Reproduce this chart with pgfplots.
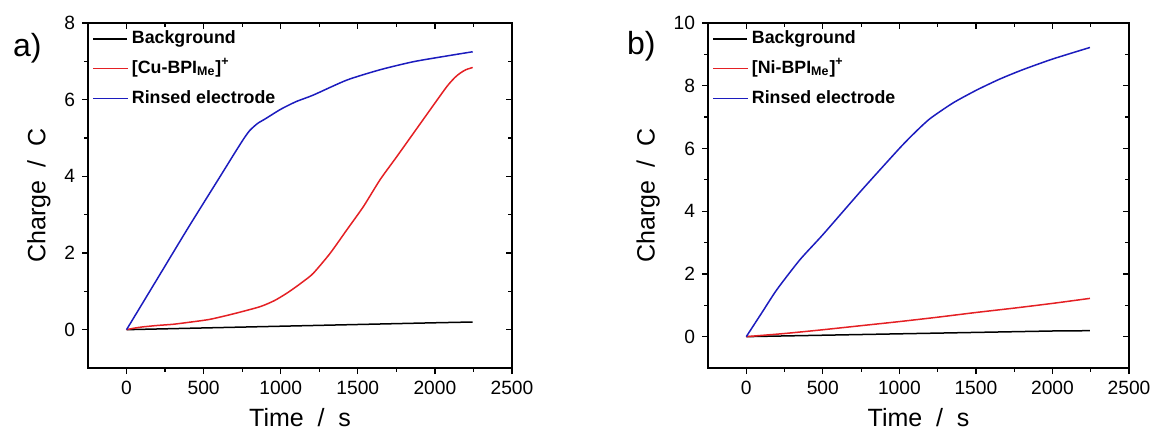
\documentclass[border=0pt]{standalone}
\usepackage{pgfplots}
\pgfplotsset{compat=1.18}
\usepackage{fontspec}
\setmainfont{Liberation Sans}
\definecolor{myred}{RGB}{228,32,36}
\definecolor{myblue}{RGB}{28,28,190}
\pgfplotsset{
  base/.style={scale only axis, width=212pt, height=172.5pt,
    xmin=-250, xmax=2500, ymin=-1,
    xtick={0,500,...,2500}, minor x tick num=1, minor y tick num=1,
    axis line style={line width=0.6pt},
    every tick/.style={black, line width=0.6pt},
    major tick length=3pt, minor tick length=1.8pt,
    tick label style={font=\fontsize{9.6}{11}\selectfont},
    /pgf/number format/assume math mode=true,
    /pgf/number format/set thousands separator={},
    tick align=outside, xtick pos=left, ytick pos=left,
    clip=false},
  lab/.style={
    xlabel={Time\hspace{0.55em}/\hspace{0.55em}s}, ylabel={Charge\hspace{0.55em}/\hspace{0.55em}C},
    label style={font=\fontsize{12.5}{14}\selectfont},
    legend cell align=left,
    legend style={draw=none, fill=none, at={(0.005,0.997)}, anchor=north west,
      font=\bfseries\fontsize{8.9}{10}\selectfont, row sep=2.4pt, inner sep=1pt,
      nodes={text height=6.5pt, text depth=2pt}},
    legend image code/.code={\draw[##1, line width=0.7pt] plot coordinates {(0pt,0pt) (8.5pt,0pt) (17pt,0pt)};}
  }
}
\newcommand{\cuname}{\relax[Cu-BPI\textsubscript{Me}]\textsuperscript{+}}
\newcommand{\niname}{\relax[Ni-BPI\textsubscript{Me}]\textsuperscript{+}}
% mirror ticks on top and right, pointing inward: #1 = ymax, #2 = major y ticks
\newcommand{\mirrorticks}[2]{%
  \pgfplotsinvokeforeach{0,500,1000,1500,2000}{\draw[line width=0.6pt] (axis cs:##1,#1) -- ++(0pt,-3pt);}
  \pgfplotsinvokeforeach{250,750,1250,1750,2250}{\draw[line width=0.6pt] (axis cs:##1,#1) -- ++(0pt,-1.8pt);}
  \pgfplotsinvokeforeach{#2}{\draw[line width=0.6pt] (axis cs:2500,##1) -- ++(-3pt,0pt);}
}
\newcommand{\mirrorminor}[1]{%
  \pgfplotsinvokeforeach{#1}{\draw[line width=0.6pt] (axis cs:2500,##1) -- ++(-1.8pt,0pt);}
}
\begin{document}
\begin{tikzpicture}
\path[use as bounding box] (0,0) rectangle (575.5pt,215pt);
% Panel a
\begin{axis}[base, lab, at={(44pt,31pt)}, anchor=south west, ymax=8, ytick={0,2,...,8}]
\addplot[black, line width=0.75pt] coordinates {(0,0) (500,0.045) (1000,0.09) (1500,0.135) (2000,0.18) (2245,0.2)};
\addlegendentry{Background}
\addplot[myred, line width=0.75pt, smooth, tension=0.4] coordinates {(0,0) (50,0.04) (100,0.07) (200,0.11) (300,0.14) (400,0.19) (541,0.27) (700,0.42) (866,0.6) (960,0.76) (1039,0.95) (1100,1.12) (1150,1.27) (1211,1.47) (1320,1.99) (1428,2.6) (1536,3.21) (1644,3.91) (1752,4.51) (1860,5.12) (1968,5.73) (2077,6.34) (2130,6.58) (2163,6.69) (2200,6.78) (2245,6.84)};
\addlegendentry{\cuname}
\addplot[myblue, line width=0.75pt, smooth, tension=0.4] coordinates {(0,0) (200,1.33) (400,2.66) (606,3.99) (700,4.6) (760,4.98) (800,5.2) (850,5.38) (900,5.5) (1000,5.75) (1100,5.95) (1211,6.12) (1428,6.51) (1644,6.78) (1860,6.99) (2077,7.14) (2245,7.25)};
\addlegendentry{Rinsed electrode}
\mirrorticks{8}{0,2,4,6}
\mirrorminor{1,3,5,7}
\end{axis}
% Panel b
\begin{axis}[base, lab, at={(354pt,31pt)}, anchor=south west, width=210.5pt, ymax=10, ytick={0,2,...,10}]
\addplot[black, line width=0.75pt] coordinates {(0,0) (500,0.045) (1000,0.09) (1500,0.135) (2000,0.18) (2245,0.19)};
\addlegendentry{Background}
\addplot[myred, line width=0.75pt, smooth, tension=0.4] coordinates {(0,0) (250,0.1) (500,0.22) (750,0.35) (1000,0.48) (1250,0.62) (1500,0.77) (1750,0.91) (2000,1.06) (2245,1.22)};
\addlegendentry{\niname}
\addplot[myblue, line width=0.75pt, smooth, tension=0.4] coordinates {(0,0) (100,0.75) (200,1.5) (350,2.45) (500,3.25) (750,4.65) (1000,6.0) (1100,6.5) (1200,6.95) (1350,7.45) (1500,7.85) (1650,8.2) (1800,8.5) (2000,8.85) (2245,9.22)};
\addlegendentry{Rinsed electrode}
\mirrorticks{10}{0,2,4,6,8}
\mirrorminor{1,3,5,7,9}
\end{axis}
\node[font=\fontsize{16}{18}\selectfont, anchor=west] at (3pt,191pt) {a)};
\node[font=\fontsize{16}{18}\selectfont, anchor=west] at (310pt,192pt) {b)};
\end{tikzpicture}
\end{document}
